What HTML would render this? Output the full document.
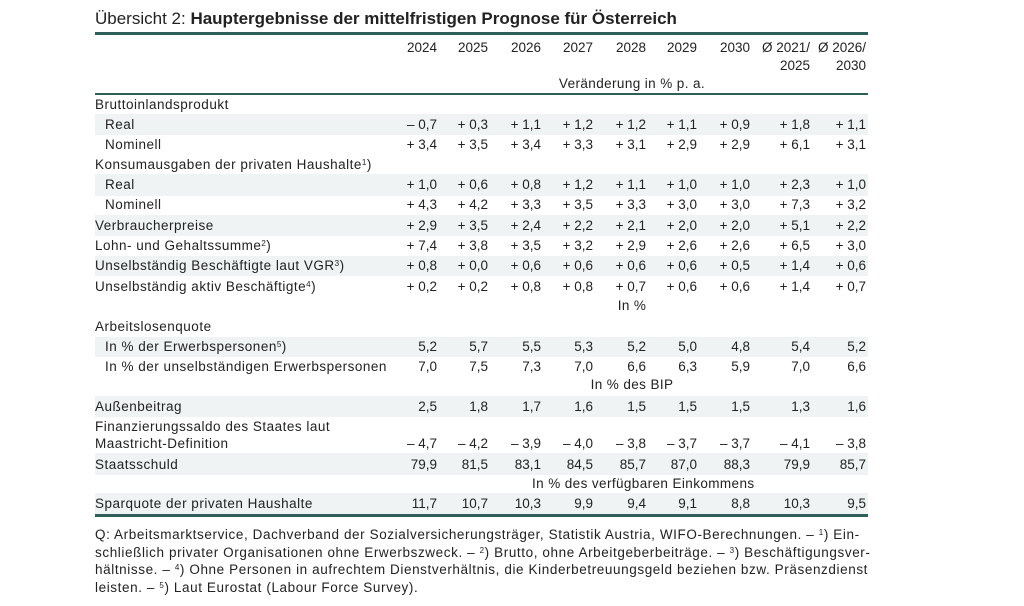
<!DOCTYPE html>
<html><head><meta charset="utf-8"><style>
body{margin:0;width:1024px;height:606px;background:#fff;position:relative;overflow:hidden;font-family:"Liberation Sans",sans-serif;color:#222;}
.a{position:absolute;white-space:nowrap;}
.sh{position:absolute;left:95px;width:773px;background:#eff3f3;}
.ln{position:absolute;left:95px;width:773px;background:#2f5f5a;}
.r{position:absolute;left:0;width:1024px;height:20px;line-height:20px;font-size:13.5px;}
.r span{position:absolute;white-space:nowrap;}
.l,.l2{letter-spacing:0.5px}
.l{left:95px}.l2{left:105px}
.c1{right:587px}.c2{right:536px}.c3{right:483px}.c4{right:431px}.c5{right:378px}.c6{right:327px}.c7{right:274px}.c8{right:214px}.c9{right:158px}
.ctr{left:532px;width:200px;text-align:center;letter-spacing:0.4px}
sup{font-size:8px;vertical-align:4px;line-height:0}
</style></head><body>
<div class="a" style="left:95px;top:9px;font-size:17px;color:#222;">Übersicht 2: <b>Hauptergebnisse der mittelfristigen Prognose für Österreich</b></div>
<div class="ln" style="top:32px;height:3px"></div>
<div class="ln" style="top:93px;height:2px"></div>
<div class="ln" style="top:514px;height:3px"></div>

<div class="sh" style="top:114px;height:21px"></div>
<div class="sh" style="top:174px;height:22px"></div>
<div class="sh" style="top:215px;height:21px"></div>
<div class="sh" style="top:256px;height:20px"></div>
<div class="sh" style="top:337px;height:20px"></div>
<div class="sh" style="top:396px;height:21px"></div>
<div class="sh" style="top:453px;height:22px"></div>
<div class="sh" style="top:493px;height:21px"></div>

<div class="r" style="top:38px"><span class="c1">2024</span><span class="c2">2025</span><span class="c3">2026</span><span class="c4">2027</span><span class="c5">2028</span><span class="c6">2029</span><span class="c7">2030</span><span class="c8">Ø 2021/</span><span class="c9">Ø 2026/</span></div>
<div class="r" style="top:56px"><span class="c8">2025</span><span class="c9">2030</span></div>
<div class="r" style="top:74px"><span class="ctr">Veränderung in % p. a.</span></div>

<div class="r" style="top:95px"><span class="l">Bruttoinlandsprodukt</span></div>
<div class="r" style="top:115px"><span class="l2">Real</span><span class="c1">– 0,7</span><span class="c2">+ 0,3</span><span class="c3">+ 1,1</span><span class="c4">+ 1,2</span><span class="c5">+ 1,2</span><span class="c6">+ 1,1</span><span class="c7">+ 0,9</span><span class="c8">+ 1,8</span><span class="c9">+ 1,1</span></div>
<div class="r" style="top:135px"><span class="l2">Nominell</span><span class="c1">+ 3,4</span><span class="c2">+ 3,5</span><span class="c3">+ 3,4</span><span class="c4">+ 3,3</span><span class="c5">+ 3,1</span><span class="c6">+ 2,9</span><span class="c7">+ 2,9</span><span class="c8">+ 6,1</span><span class="c9">+ 3,1</span></div>
<div class="r" style="top:155px"><span class="l">Konsumausgaben der privaten Haushalte<sup>1</sup>)</span></div>
<div class="r" style="top:175px"><span class="l2">Real</span><span class="c1">+ 1,0</span><span class="c2">+ 0,6</span><span class="c3">+ 0,8</span><span class="c4">+ 1,2</span><span class="c5">+ 1,1</span><span class="c6">+ 1,0</span><span class="c7">+ 1,0</span><span class="c8">+ 2,3</span><span class="c9">+ 1,0</span></div>
<div class="r" style="top:195px"><span class="l2">Nominell</span><span class="c1">+ 4,3</span><span class="c2">+ 4,2</span><span class="c3">+ 3,3</span><span class="c4">+ 3,5</span><span class="c5">+ 3,3</span><span class="c6">+ 3,0</span><span class="c7">+ 3,0</span><span class="c8">+ 7,3</span><span class="c9">+ 3,2</span></div>
<div class="r" style="top:216px"><span class="l">Verbraucherpreise</span><span class="c1">+ 2,9</span><span class="c2">+ 3,5</span><span class="c3">+ 2,4</span><span class="c4">+ 2,2</span><span class="c5">+ 2,1</span><span class="c6">+ 2,0</span><span class="c7">+ 2,0</span><span class="c8">+ 5,1</span><span class="c9">+ 2,2</span></div>
<div class="r" style="top:236px"><span class="l">Lohn- und Gehaltssumme<sup>2</sup>)</span><span class="c1">+ 7,4</span><span class="c2">+ 3,8</span><span class="c3">+ 3,5</span><span class="c4">+ 3,2</span><span class="c5">+ 2,9</span><span class="c6">+ 2,6</span><span class="c7">+ 2,6</span><span class="c8">+ 6,5</span><span class="c9">+ 3,0</span></div>
<div class="r" style="top:256px"><span class="l">Unselbständig Beschäftigte laut VGR<sup>3</sup>)</span><span class="c1">+ 0,8</span><span class="c2">+ 0,0</span><span class="c3">+ 0,6</span><span class="c4">+ 0,6</span><span class="c5">+ 0,6</span><span class="c6">+ 0,6</span><span class="c7">+ 0,5</span><span class="c8">+ 1,4</span><span class="c9">+ 0,6</span></div>
<div class="r" style="top:277px"><span class="l">Unselbständig aktiv Beschäftigte<sup>4</sup>)</span><span class="c1">+ 0,2</span><span class="c2">+ 0,2</span><span class="c3">+ 0,8</span><span class="c4">+ 0,8</span><span class="c5">+ 0,7</span><span class="c6">+ 0,6</span><span class="c7">+ 0,6</span><span class="c8">+ 1,4</span><span class="c9">+ 0,7</span></div>
<div class="r" style="top:296px"><span class="ctr">In %</span></div>
<div class="r" style="top:317px"><span class="l">Arbeitslosenquote</span></div>
<div class="r" style="top:337px"><span class="l2">In % der Erwerbspersonen<sup>5</sup>)</span><span class="c1">5,2</span><span class="c2">5,7</span><span class="c3">5,5</span><span class="c4">5,3</span><span class="c5">5,2</span><span class="c6">5,0</span><span class="c7">4,8</span><span class="c8">5,4</span><span class="c9">5,2</span></div>
<div class="r" style="top:357px"><span class="l2">In % der unselbständigen Erwerbspersonen</span><span class="c1">7,0</span><span class="c2">7,5</span><span class="c3">7,3</span><span class="c4">7,0</span><span class="c5">6,6</span><span class="c6">6,3</span><span class="c7">5,9</span><span class="c8">7,0</span><span class="c9">6,6</span></div>
<div class="r" style="top:375px"><span class="ctr">In % des BIP</span></div>
<div class="r" style="top:397px"><span class="l">Außenbeitrag</span><span class="c1">2,5</span><span class="c2">1,8</span><span class="c3">1,7</span><span class="c4">1,6</span><span class="c5">1,5</span><span class="c6">1,5</span><span class="c7">1,5</span><span class="c8">1,3</span><span class="c9">1,6</span></div>
<div class="r" style="top:417px"><span class="l">Finanzierungssaldo des Staates laut</span></div>
<div class="r" style="top:434px"><span class="l">Maastricht-Definition</span><span class="c1">– 4,7</span><span class="c2">– 4,2</span><span class="c3">– 3,9</span><span class="c4">– 4,0</span><span class="c5">– 3,8</span><span class="c6">– 3,7</span><span class="c7">– 3,7</span><span class="c8">– 4,1</span><span class="c9">– 3,8</span></div>
<div class="r" style="top:455px"><span class="l">Staatsschuld</span><span class="c1">79,9</span><span class="c2">81,5</span><span class="c3">83,1</span><span class="c4">84,5</span><span class="c5">85,7</span><span class="c6">87,0</span><span class="c7">88,3</span><span class="c8">79,9</span><span class="c9">85,7</span></div>
<div class="r" style="top:474px"><span class="ctr">In % des verfügbaren Einkommens</span></div>
<div class="r" style="top:494px"><span class="l">Sparquote der privaten Haushalte</span><span class="c1">11,7</span><span class="c2">10,7</span><span class="c3">10,3</span><span class="c4">9,9</span><span class="c5">9,4</span><span class="c6">9,1</span><span class="c7">8,8</span><span class="c8">10,3</span><span class="c9">9,5</span></div>

<div class="a" style="left:95px;top:526px;font-size:13.5px;line-height:17.5px;letter-spacing:0.6px;">
Q: Arbeitsmarktservice, Dachverband der Sozialversicherungsträger, Statistik Austria, WIFO-Berechnungen. – <sup>1</sup>) Ein-<br>
schließlich privater Organisationen ohne Erwerbszweck. – <sup>2</sup>) Brutto, ohne Arbeitgeberbeiträge. – <sup>3</sup>) Beschäftigungsver-<br>
hältnisse. – <sup>4</sup>) Ohne Personen in aufrechtem Dienstverhältnis, die Kinderbetreuungsgeld beziehen bzw. Präsenzdienst<br>
leisten. – <sup>5</sup>) Laut Eurostat (Labour Force Survey).
</div>
</body></html>
